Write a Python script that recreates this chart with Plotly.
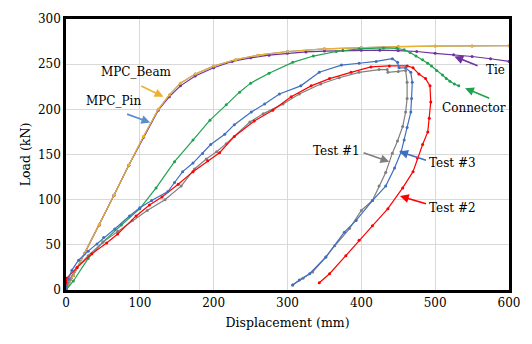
import plotly.graph_objects as go

# ---- data (Displacement mm, Load kN) ----
beam_x = [0, 10, 25, 45, 65, 85, 105, 125, 140, 155, 175, 200, 230, 260, 300, 350, 400, 450, 500, 550, 600]
beam_y = [0, 16, 40, 72, 105, 138, 170, 200, 216, 229, 239, 248, 255, 260, 264, 267, 268.5, 269.5, 270, 270, 270.5]

pin_x = [0, 10, 25, 45, 65, 85, 105, 125, 140, 155, 175, 200, 230, 260, 300, 350, 400, 450, 500, 550, 600]
pin_y = [0, 16, 40, 72, 105, 138, 170, 200, 216, 229, 239, 248, 255, 260, 264, 267, 268.5, 269.5, 270, 270, 270.5]

tie_x = [0, 10, 25, 45, 65, 85, 105, 125, 140, 155, 175, 200, 225, 250, 275, 300, 325, 350, 375, 400, 425, 450, 475, 500, 525, 550, 575, 600]
tie_y = [0, 16, 40, 72, 105, 138, 169, 199, 214, 226, 237, 246, 253, 257, 260, 262, 263.5, 264.5, 265, 265.5, 265.5, 265, 264, 262, 260.5, 258.5, 256, 253]

con_x = [0, 10, 30, 50, 75, 100, 122, 147, 172, 195, 217, 235, 250, 275, 307, 335, 366, 397, 430, 448, 458, 466, 474, 483, 490, 495, 502, 510, 515, 520, 526, 532]
con_y = [0, 10, 35, 53, 72, 90, 113, 142, 166, 188, 205, 219, 229, 240, 252, 259, 264, 267, 268, 267.5, 266, 263, 259, 255, 251, 248, 243, 238, 234, 231, 228, 226]

t1_x = [0, 5, 15, 30, 50, 70, 90, 110, 134, 156, 174, 190, 204, 217, 249, 267, 294, 316, 345, 370, 397, 424, 435, 436, 450, 460, 462, 462, 460, 456, 449, 442, 433, 424, 415, 400, 384, 364, 352, 334, 321, 307]
t1_y = [0, 12, 25, 38, 53, 65, 77, 88, 100, 115, 134, 145, 153, 162, 186, 195, 206, 217, 228, 235, 241, 244, 244, 241, 242, 243, 230, 212, 197, 181, 165, 151.5, 130, 115, 99, 88, 68, 49, 36.5, 20, 13, 5.5]

t2_x = [0, 1, 15, 35, 55, 70, 95, 113, 130, 152, 172, 192, 208, 228, 255, 280, 305, 332, 357, 386, 413, 438, 462, 470, 478, 487, 493, 494, 492, 490, 483, 476, 470, 456, 436, 415, 397, 379, 357, 343]
t2_y = [0, 13, 25, 40, 52, 62, 82, 94, 103, 117, 131, 143, 152, 170, 187, 199, 214, 226, 234, 241, 247, 248, 248, 246, 239, 234, 226, 208, 190, 175, 161, 146, 131, 113, 90, 71, 55, 38, 18, 8]

t3_x = [0, 3, 8, 17, 30, 42, 51, 66, 86, 100, 116, 138, 147, 158, 172, 185, 196, 215, 228, 251, 269, 289, 318, 343, 373, 397, 420, 442, 449, 451, 460, 467, 469, 468, 467, 462, 458, 454, 445, 433, 415, 393, 377, 352, 330, 316, 307]
t3_y = [0, 12, 22, 33, 43, 51, 58, 67.5, 82, 91, 99, 109, 119, 131, 140.5, 151, 161, 172.5, 183, 197, 206, 217, 226, 241, 249, 251, 253, 256, 252, 246, 246, 241, 230, 212, 197, 180, 166, 153, 135, 115, 99, 77, 64, 36.5, 18, 11, 5.5]

x_ticks = [0, 100, 200, 300, 400, 500, 600]
y_ticks = [0, 50, 100, 150, 200, 250, 300]

C_BEAM = "#EDB12F"
C_PIN = "#5B8BD0"
C_TIE = "#7030A0"
C_CON = "#1FA24F"
C_T1 = "#7F7F7F"
C_T2 = "#FF0000"
C_T3 = "#3F6FBF"

fig = go.Figure()

def add(x, y, name, color, size=3):
    fig.add_trace(go.Scatter(x=x, y=y, name=name, mode="lines+markers",
                             line=dict(color=color, width=1.2),
                             marker=dict(color=color, size=size, symbol="circle")))

add(pin_x, pin_y, "MPC_Pin", C_PIN)
add(tie_x, tie_y, "Tie", C_TIE)
add(beam_x, beam_y, "MPC_Beam", C_BEAM)
add(con_x, con_y, "Connector", C_CON)
add(t1_x, t1_y, "Test #1", C_T1)
add(t2_x, t2_y, "Test #2", C_T2)
add(t3_x, t3_y, "Test #3", C_T3)

FONT = "DejaVu Serif"
labels = [
    # text, text x, text y, tail x, tail y, head x, head y, color
    ("MPC_Beam", 96, 241, 100, 226.7, 132, 214, C_BEAM),
    ("MPC_Pin", 65, 209, 80.7, 195.3, 114, 185.4, C_PIN),
    ("Tie", 582, 243, 559.5, 247.5, 526, 258.5, C_TIE),
    ("Connector", 553, 201.5, 575.3, 211.7, 540.5, 223.4, C_CON),
    ("Test #1", 366, 154, 401, 152.6, 437.8, 141.9, C_T1),
    ("Test #3", 524, 140.5, 489.6, 143.2, 451.4, 153.3, C_T3),
    ("Test #2", 524, 91, 489.6, 95, 452.3, 104, C_T2),
]
for t, tx, ty, ax, ay, hx, hy, c in labels:
    fig.add_annotation(x=tx, y=ty, xref="x", yref="y", text=t, showarrow=False,
                       font=dict(family=FONT, size=12, color="black"))
    fig.add_annotation(x=hx, y=hy, ax=ax, ay=ay, xref="x", yref="y", axref="x", ayref="y",
                       text="", showarrow=True, arrowhead=2, arrowsize=1.1,
                       arrowwidth=1.6, arrowcolor=c)

fig.update_layout(
    width=532, height=344,
    margin=dict(l=66, r=22, t=16, b=54),
    paper_bgcolor="white", plot_bgcolor="white",
    showlegend=False,
    font=dict(family=FONT, size=12, color="black"),
)
fig.update_xaxes(range=[0, 600], tickvals=x_ticks, showgrid=True, gridcolor="#D9D9D9", gridwidth=1,
                 zeroline=False, showline=True, mirror=True, linecolor="black", linewidth=2.5,
                 ticks="", tickfont=dict(family=FONT, size=12),
                 title=dict(text="Displacement (mm)", font=dict(family=FONT, size=12.5), standoff=10))
fig.update_yaxes(range=[0, 300], tickvals=y_ticks, showgrid=True, gridcolor="#D9D9D9", gridwidth=1,
                 zeroline=False, showline=True, mirror=True, linecolor="black", linewidth=2.5,
                 ticks="", tickfont=dict(family=FONT, size=12),
                 title=dict(text="Load (kN)", font=dict(family=FONT, size=12.5), standoff=5))

fig.write_html("out.html")
